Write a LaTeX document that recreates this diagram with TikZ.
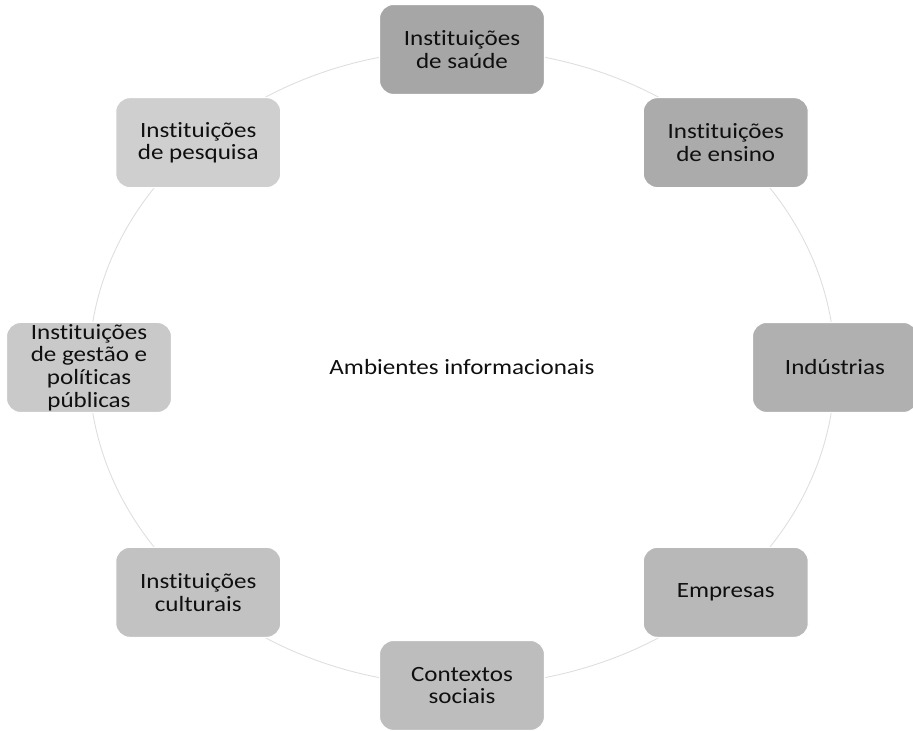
\documentclass[tikz,border=0pt]{standalone}
\usepackage{fontspec}
\setmainfont{Carlito}[Ligatures=NoCommon, FakeStretch=1.15]
\usetikzlibrary{positioning, calc}
\definecolor{ringgray}{RGB}{222,222,222}
\definecolor{textdark}{RGB}{15,15,15}

\begin{document}
\begin{tikzpicture}[
  box/.style={rectangle, rounded corners=8pt, minimum width=3.3cm, minimum height=1.8cm, inner sep=1pt, align=center, font=\fontsize{12.4}{12.9}\selectfont, text=textdark, draw=white, line width=0.6pt},
  ring/.style={draw=ringgray, line width=0.5pt}
]
  \useasboundingbox (0,0) rectangle (18.26,14.62);

  % Centre
  \node[font=\fontsize{12.4}{13}\selectfont, text=textdark] (amb) at (9.24,7.27) {Ambientes informacionais};

  % Ring behind the boxes
  \draw[ring] (amb.center) ellipse [x radius=7.46cm, y radius=6.36cm];

  % Boxes round the ring
  \node[box, fill=black!35] (saude) at ($(amb.center)+(90:7.46 and 6.36)$) {Instituições\\de saúde};
  \node[box, fill=black!33] (ensino) at ($(amb.center)+(45:7.46 and 6.36)$) {Instituições\\de ensino};
  \node[box, fill=black!31] (industrias) at ($(amb.center)+(0:7.46 and 6.36)$) {Indústrias};
  \node[box, fill=black!28] (empresas) at ($(amb.center)+(-45:7.46 and 6.36)$) {Empresas};
  \node[box, fill=black!26] (contextos) at ($(amb.center)+(-90:7.46 and 6.36)$) {Contextos\\sociais};
  \node[box, fill=black!24] (culturais) at ($(amb.center)+(-135:7.46 and 6.36)$) {Instituições\\culturais};
  \node[box, fill=black!21] (gestao) at ($(amb.center)+(180:7.46 and 6.36)$) {Instituições\\de gestão e\\políticas\\públicas};
  \node[box, fill=black!19] (pesquisa) at ($(amb.center)+(135:7.46 and 6.36)$) {Instituições\\de pesquisa};
\end{tikzpicture}
\end{document}
